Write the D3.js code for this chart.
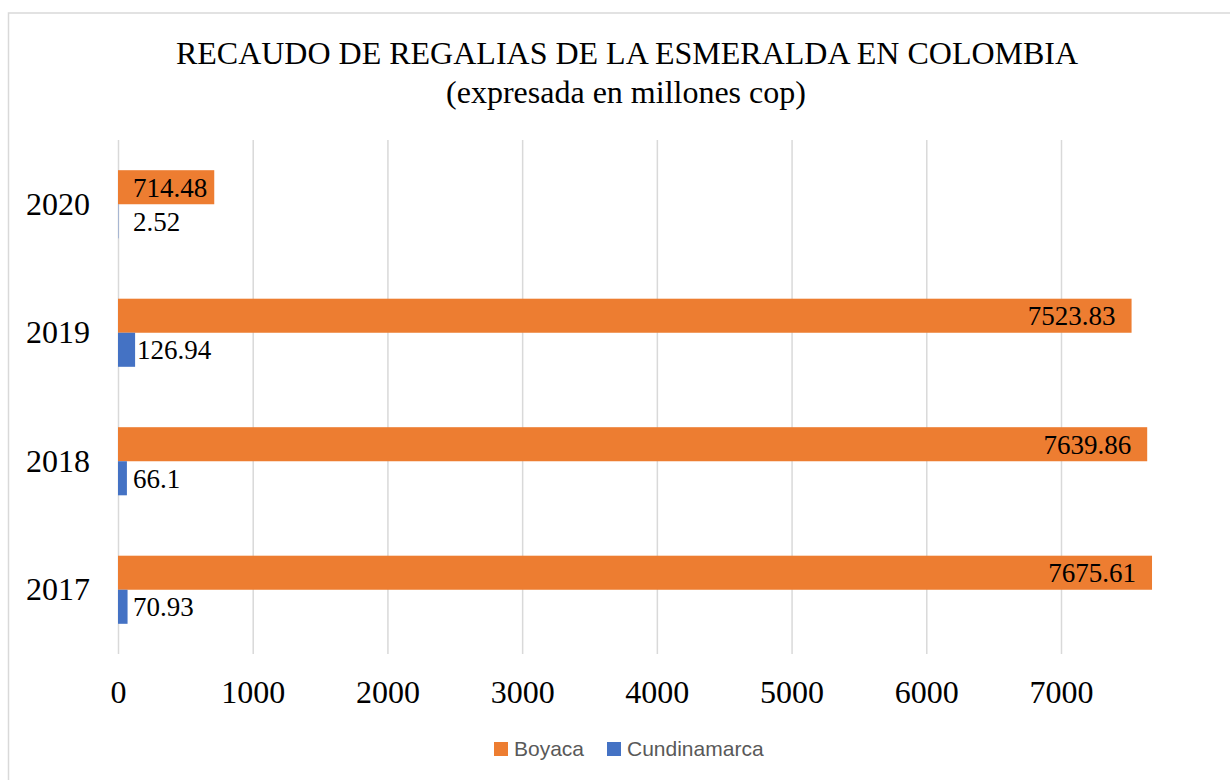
<!DOCTYPE html>
<html>
<head>
<meta charset="utf-8">
<script src="https://cdn.jsdelivr.net/npm/d3@7"></script>
<style>
  body { margin: 0; background: #fff; }
  svg { display: block; }
</style>
</head>
<body>
<div id="chart"></div>
<script>
const years = ['2020', '2019', '2018', '2017'];
const series = ['Boyaca', 'Cundinamarca'];
const boyaca = [714.48, 7523.83, 7639.86, 7675.61];
const cundinamarca = [2.52, 126.94, 66.1, 70.93];
const xTicks = [0, 1000, 2000, 3000, 4000, 5000, 6000, 7000];
const colors = ['#ed7d31', '#4472c4'];

const width = 1230;
const height = 780;
const margin = { top: 140, bottom: 126, left: 118, right: 169 };
const serif = '"Liberation Serif", "Times New Roman", serif';

const svg = d3.select('#chart')
  .append('svg')
  .attr('width', width)
  .attr('height', height);

// chart frame
svg.append('rect')
  .attr('x', 8.5)
  .attr('y', 13)
  .attr('width', width + 20)
  .attr('height', height + 20)
  .attr('fill', 'none')
  .attr('stroke', '#d9d9d9')
  .attr('stroke-width', 1.5);

const x = d3.scaleLinear()
  .domain([0, 7000])
  .range([margin.left, width - margin.right]);

const y = d3.scaleBand()
  .domain(years)
  .range([margin.top, height - margin.bottom])
  .paddingInner(0.47)
  .paddingOuter(0.235);

const ySub = d3.scaleBand()
  .domain(series)
  .range([0, y.bandwidth()]);

const color = d3.scaleOrdinal().domain(series).range(colors);

// gridlines
svg.append('g')
  .attr('transform', `translate(0,${height - margin.bottom})`)
  .call(d3.axisBottom(x).tickValues(xTicks).tickSize(-(height - margin.bottom - margin.top)).tickFormat(''))
  .call(g => g.select('.domain').remove())
  .call(g => g.selectAll('line').attr('stroke', '#d9d9d9').attr('stroke-width', 1.5));

// x axis labels
svg.append('g')
  .attr('transform', `translate(0,${height - margin.bottom})`)
  .call(d3.axisBottom(x).tickValues(xTicks).tickSize(0).tickPadding(26).tickFormat(d3.format('d')))
  .call(g => g.select('.domain').remove())
  .call(g => g.selectAll('text')
    .attr('font-family', serif)
    .attr('font-size', '32px')
    .attr('fill', '#000'));

// y axis labels
svg.append('g')
  .attr('transform', `translate(${margin.left},0)`)
  .call(d3.axisLeft(y).tickSize(0).tickPadding(28))
  .call(g => g.select('.domain').remove())
  .call(g => g.selectAll('text')
    .attr('font-family', serif)
    .attr('font-size', '32px')
    .attr('fill', '#000'));

const rows = years.map((yr, i) => ({
  year: yr,
  values: [
    { key: 'Boyaca', value: boyaca[i] },
    { key: 'Cundinamarca', value: cundinamarca[i] }
  ]
}));

const groups = svg.append('g')
  .selectAll('g')
  .data(rows)
  .join('g')
  .attr('transform', d => `translate(0,${y(d.year)})`);

groups.selectAll('rect')
  .data(d => d.values)
  .join('rect')
  .attr('x', x(0))
  .attr('y', d => ySub(d.key))
  .attr('width', d => x(d.value) - x(0))
  .attr('height', ySub.bandwidth())
  .attr('fill', d => color(d.key));

// data labels
groups.selectAll('text.label')
  .data(d => d.values)
  .join('text')
  .attr('class', 'label')
  .attr('font-family', serif)
  .attr('font-size', '27px')
  .attr('fill', '#000')
  .attr('dy', '0.35em')
  .attr('y', d => ySub(d.key) + ySub.bandwidth() / 2)
  .text(d => d.value)
  .each(function (d) {
    const t = d3.select(this);
    const w = this.getComputedTextLength();
    if (d.key === 'Boyaca') {
      let end = x(d.value) - 16;
      if (end - w < x(0) + 15) end = x(0) + 15 + w;
      t.attr('x', end).attr('text-anchor', 'end');
    } else {
      t.attr('x', Math.max(x(d.value) + 2, x(0) + 15)).attr('text-anchor', 'start');
    }
  });

// title
svg.append('text')
  .attr('x', 627)
  .attr('y', 64)
  .attr('text-anchor', 'middle')
  .attr('font-family', serif)
  .attr('font-size', '32px')
  .text('RECAUDO DE REGALIAS DE LA ESMERALDA EN COLOMBIA');

svg.append('text')
  .attr('x', 626)
  .attr('y', 103)
  .attr('text-anchor', 'middle')
  .attr('font-family', serif)
  .attr('font-size', '32px')
  .text('(expresada en millones cop)');

// legend
const legendItems = [
  { key: 'Boyaca', x: 494 },
  { key: 'Cundinamarca', x: 607 }
];

const legend = svg.append('g')
  .selectAll('g')
  .data(legendItems)
  .join('g')
  .attr('transform', d => `translate(${d.x},742)`);

legend.append('rect')
  .attr('width', 14)
  .attr('height', 14)
  .attr('fill', d => color(d.key));

legend.append('text')
  .attr('x', 20)
  .attr('y', 7)
  .attr('dy', '0.35em')
  .attr('font-family', '"Liberation Sans", Arial, sans-serif')
  .attr('font-size', '21px')
  .attr('fill', '#595959')
  .text(d => d.key);
</script>
</body>
</html>
